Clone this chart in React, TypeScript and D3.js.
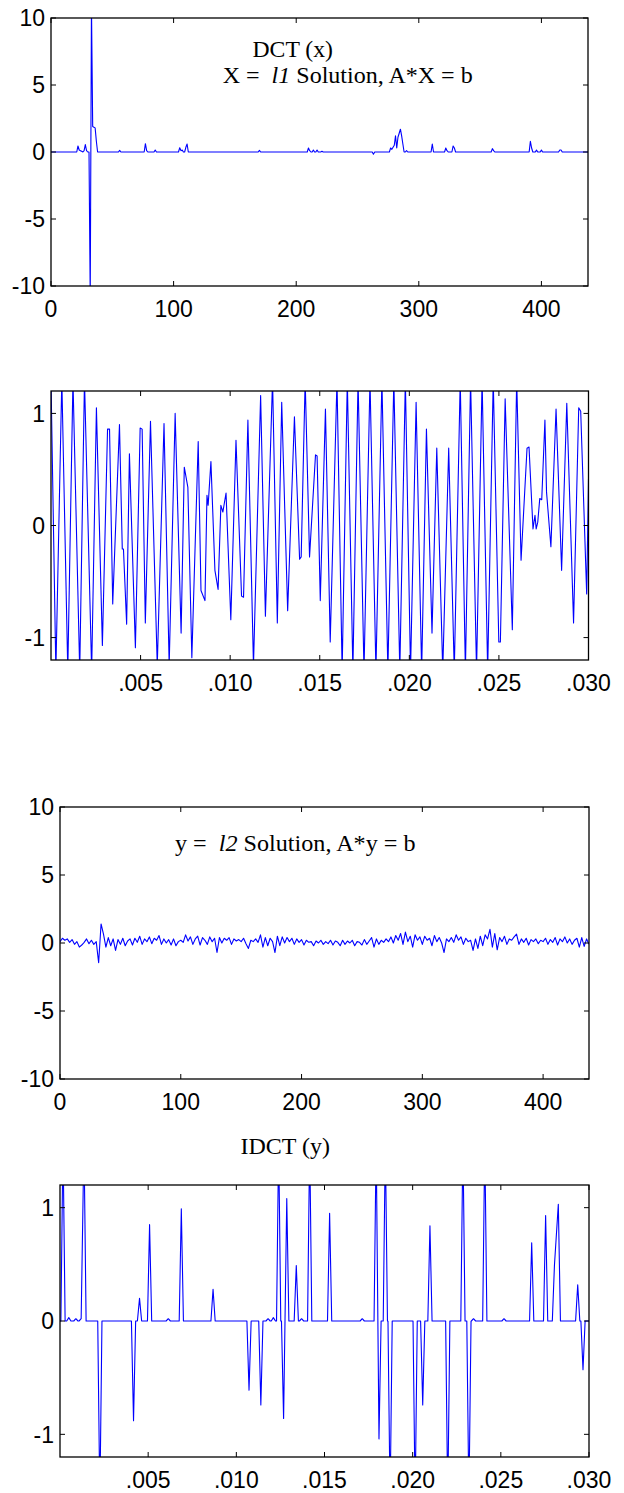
import React from 'react';
import * as d3 from 'd3';

const W = 624;
const H = 1493;

// ---------- Panel 1: DCT(x), X = l1 solution (sparse coefficients, zero elsewhere)
const dctLength = 438;
const dctIndex = [22, 23, 24, 25, 27, 28, 29, 32, 33, 34, 35, 36, 37, 56, 77, 78, 85, 105, 106, 107, 110, 111, 170, 210, 211, 214, 217, 221, 263, 277, 278, 279, 280, 281, 282, 283, 284, 285, 286, 287, 290, 311, 322, 323, 328, 329, 360, 361, 391, 392, 396, 400, 415, 416];
const dctValue = [0.45, 0.15, 0.1, 0.05, 0.1, 0.55, 0.1, -11, 11, 1.9, 1.85, 1.8, 0.8, 0.12, 0.62, 0.1, 0.15, 0.32, 0.1, 0.15, 0.35, 0.6, 0.12, 0.3, 0.1, 0.15, 0.15, 0.05, -0.17, 0.3, 0.2, 0.35, 0.5, 1.2, 0.3, 1.1, 1.4, 1.7, 1.2, 0.6, 0.1, 0.6, 0.3, 0.1, 0.45, 0.3, 0.25, 0.1, 0.8, 0.3, 0.15, 0.15, 0.15, 0.15];

// ---------- Panel 2: time signal (turning points)
const sigTime = [0, 0.000272, 0.000604, 0.000937, 0.001226, 0.001603, 0.001869, 0.002269, 0.002535, 0.002868, 0.003156, 0.003267, 0.003445, 0.003822, 0.003978, 0.004044, 0.004222, 0.004377, 0.00471, 0.004976, 0.005087, 0.005265, 0.005553, 0.005931, 0.006308, 0.006596, 0.006929, 0.007262, 0.007439, 0.007639, 0.007861, 0.008216, 0.008371, 0.008594, 0.008705, 0.008771, 0.008926, 0.009149, 0.009326, 0.009481, 0.009592, 0.00977, 0.010036, 0.010325, 0.010635, 0.010746, 0.01099, 0.011301, 0.0117, 0.011967, 0.012366, 0.012632, 0.012877, 0.013209, 0.013587, 0.013875, 0.013964, 0.014186, 0.01443, 0.014763, 0.014852, 0.015029, 0.015318, 0.015584, 0.015962, 0.01625, 0.016538, 0.016849, 0.017138, 0.01747, 0.017804, 0.018136, 0.018469, 0.018802, 0.019135, 0.019468, 0.019778, 0.020067, 0.020378, 0.020688, 0.020955, 0.021265, 0.021532, 0.021865, 0.022197, 0.022508, 0.022841, 0.023129, 0.023418, 0.023751, 0.024061, 0.024372, 0.024683, 0.024994, 0.025082, 0.025348, 0.025748, 0.025992, 0.026236, 0.026569, 0.02668, 0.026902, 0.027013, 0.02708, 0.027168, 0.027279, 0.02739, 0.027568, 0.027657, 0.027901, 0.028189, 0.0285, 0.028788, 0.029166, 0.029454, 0.029565, 0.029898, 0.03];
const sigValue = [1.3, -1.3, 1.3, -1.3, 1.3, -1.3, 1.3, -1.3, 1.05, -1.07, 0.86, 0.86, -0.7, 0.9, -0.21, -0.21, -0.88, 0.64, -1.09, 0.87, 0.86, -0.87, 0.93, -1.25, 0.91, -1.25, 1.0, -0.96, 0.52, 0.34, -1.18, 0.75, -0.58, -0.67, 0.27, 0.18, 0.57, -0.4, -0.57, 0.18, 0.12, 0.29, -0.84, 0.76, -0.63, -0.64, 0.94, -1.25, 1.16, -0.81, 1.3, -0.87, 1.1, -0.76, 0.97, -0.3, -0.28, 1.3, -0.28, 0.63, 0.62, -0.67, 1.04, -1.04, 1.3, -1.3, 1.3, -1.3, 1.3, -1.3, 1.3, -1.3, 1.3, -1.3, 1.3, -1.3, 1.3, -1.3, 1.1, -1.3, 0.86, -0.96, 0.69, -1.3, 0.69, -1.3, 1.3, -1.3, 1.3, -1.3, 1.3, -1.3, 1.3, -1.04, -1.04, 1.13, -0.93, 1.3, -0.31, 0.69, 0.7, -0.03, 0.09, -0.03, 0.03, 0.24, 0.23, 0.94, 0.3, -0.19, 1.04, -0.4, 1.09, -0.87, 1.05, 1.02, -0.61, 0.42];

// ---------- Panel 3: y = l2 solution (every second coefficient, index 0..438)
const l2Step = 2;
const l2Value = [
  0.1, 0.35, 0.2, 0.3, 0.05, 0.25, -0.1, 0.1, -0.3, -0.15,
  0.05, 0.3, -0.05, 0.2, -0.1, 0.1, -1.45, 1.4, 0.65, -0.3,
  0.4, -0.2, 0.3, -0.55, 0.25, -0.1, 0.35, -0.2, 0.15, 0.3,
  -0.15, 0.35, 0.05, 0.5, -0.1, 0.3, 0.1, 0.45, -0.05, 0.35,
  0.2, 0.55, -0.1, 0.3, 0.0, 0.25, -0.15, 0.3, -0.2, 0.1,
  0.2, 0.05, 0.6, 0.15, 0.45, -0.1, 0.3, 0.5, -0.15, 0.4,
  0.2, -0.1, 0.45, 0.1, 0.35, -0.7, 0.4, 0.0, 0.35, 0.2,
  0.4, -0.1, 0.3, 0.15, 0.25, 0.1, 0.35, -0.05, -0.4, 0.2,
  0.1, 0.3, 0.05, 0.6, -0.3, 0.4, -0.2, 0.35, 0.1, -0.7,
  0.5, -0.2, 0.45, 0.0, 0.4, 0.1, 0.35, -0.1, 0.3, 0.05,
  0.25, -0.15, 0.2, 0.05, 0.1, -0.2, 0.15, 0.0, 0.2, -0.1,
  0.1, -0.05, 0.2, -0.15, 0.15, 0.05, -0.2, 0.2, -0.1, 0.15,
  0.0, 0.2, -0.2, 0.1, 0.05, -0.15, 0.25, -0.1, 0.15, 0.4,
  -0.3, 0.3, -0.1, 0.2, 0.05, 0.3, 0.1, 0.45, 0.0, 0.55,
  0.2, 0.7, -0.1, 0.8, 0.1, 0.5, -0.3, 0.6, 0.2, 0.45,
  -0.1, 0.5, 0.2, 0.35, -0.2, 0.55, 0.1, 0.4, 0.0, -0.7,
  0.3, 0.1, 0.4, 0.05, 0.6, 0.2, 0.45, -0.1, 0.35, 0.1,
  0.2, -0.55, 0.3, -0.4, 0.5, -0.2, 0.6, 0.3, 1.0, -0.3,
  0.7, -0.5, 0.4, 0.1, 0.5, -0.1, 0.3, 0.2, 0.45, 0.65,
  -0.1, 0.3, 0.05, 0.35, -0.15, 0.25, 0.1, 0.3, -0.05, 0.2,
  0.1, 0.35, -0.1, 0.25, 0.05, 0.4, -0.15, 0.3, 0.1, 0.45,
  0.0, 0.3, -0.1, 0.2, 0.35, -0.3, 0.4, -0.25, 0.3, -0.1,
];

// ---------- Panel 4: IDCT(y) (isolated samples, zero elsewhere)
const spikeTime = [0.00017, 0.0005, 0.0009, 0.0012, 0.00136, 0.00226, 0.00417, 0.00451, 0.00508, 0.00614, 0.00688, 0.00868, 0.01072, 0.01139, 0.0118, 0.0121, 0.0124, 0.01268, 0.01286, 0.0134, 0.0137, 0.01416, 0.01529, 0.01714, 0.01793, 0.01809, 0.01845, 0.01872, 0.02014, 0.02057, 0.02098, 0.02199, 0.02285, 0.02319, 0.02345, 0.02409, 0.02518, 0.02675, 0.02754, 0.02804, 0.02826, 0.02936, 0.02966];
const spikeValue = [1.6, 0.03, 0.02, 0.02, 1.6, -1.6, -0.88, 0.2, 0.85, 0.02, 0.99, 0.28, -0.61, -0.74, 0.02, 0.03, 1.6, -0.86, 1.08, 0.49, 0.02, 1.6, 0.95, 0.02, 1.6, -1.04, 1.6, -1.6, -1.6, -0.74, 0.84, -1.6, 1.6, -1.6, 0.02, 1.6, 0.02, 0.69, 0.93, 0.49, 1.03, 0.32, -0.43];
const spikeHalfWidth = 0.00012;

// ---------- axes
const coefTicks = [0, 100, 200, 300, 400];
const coefYTicks = [-10, -5, 0, 5, 10];
const timeTicks = [0.005, 0.01, 0.015, 0.02, 0.025, 0.03];
const timeYTicks = [-1, 0, 1];

type Pt = [number, number];
type Box = { l: number; r: number; t: number; b: number };

const fmtTime = (d: number) => d3.format('.3f')(d).replace(/^0/, '');
const fmtInt = (d: number) => String(d);

const SANS = "'Liberation Sans', Arial, Helvetica, sans-serif";
const SERIF = "'Liberation Serif', 'Times New Roman', Times, serif";

function Panel(props: {
  id: string;
  box: Box;
  xDomain: [number, number];
  yDomain: [number, number];
  xTicks: number[];
  yTicks: number[];
  xFmt: (d: number) => string;
  data: Pt[];
}) {
  const { id, box, xDomain, yDomain, xTicks, yTicks, xFmt, data } = props;
  const x = d3.scaleLinear().domain(xDomain).range([box.l, box.r]);
  const y = d3.scaleLinear().domain(yDomain).range([box.b, box.t]);
  const line = d3
    .line<Pt>()
    .x((d) => x(d[0]))
    .y((d) => y(d[1]));
  const tl = 5;
  const fs = 23;
  return (
    <g>
      <defs>
        <clipPath id={id}>
          <rect x={box.l} y={box.t} width={box.r - box.l} height={box.b - box.t} />
        </clipPath>
      </defs>
      <path
        d={line(data) || ''}
        fill="none"
        stroke="#0000ff"
        strokeWidth={1.1}
        strokeLinejoin="round"
        clipPath={`url(#${id})`}
      />
      <rect
        x={box.l}
        y={box.t}
        width={box.r - box.l}
        height={box.b - box.t}
        fill="none"
        stroke="#000"
        strokeWidth={1.3}
      />
      {xTicks.map((t) => (
        <g key={'xt' + t}>
          <line x1={x(t)} x2={x(t)} y1={box.b} y2={box.b - tl} stroke="#000" strokeWidth={1} />
          <line x1={x(t)} x2={x(t)} y1={box.t} y2={box.t + tl} stroke="#000" strokeWidth={1} />
          <text
            x={x(t)}
            y={box.b + 30.5}
            textAnchor="middle"
            fontFamily={SANS}
            fontSize={fs}
            fill="#000"
          >
            {xFmt(t)}
          </text>
        </g>
      ))}
      {yTicks.map((t) => (
        <g key={'yt' + t}>
          <line x1={box.l} x2={box.l + tl} y1={y(t)} y2={y(t)} stroke="#000" strokeWidth={1} />
          <line x1={box.r} x2={box.r - tl} y1={y(t)} y2={y(t)} stroke="#000" strokeWidth={1} />
          <text
            x={box.l - 6}
            y={y(t) + 8.2}
            textAnchor="end"
            fontFamily={SANS}
            fontSize={fs}
            fill="#000"
          >
            {String(t)}
          </text>
        </g>
      ))}
    </g>
  );
}

function dctSeries(): Pt[] {
  const vals = new Array(dctLength + 1).fill(0);
  dctIndex.forEach((k, i) => {
    vals[k] = dctValue[i];
  });
  return vals.map((v, i) => [i, v] as Pt);
}

function signalSeries(): Pt[] {
  return sigTime.map((t, i) => [t, sigValue[i]] as Pt);
}

function l2Series(): Pt[] {
  return l2Value.map((v, i) => [i * l2Step, v] as Pt);
}

function spikeSeries(): Pt[] {
  const pts: Pt[] = [[0, 0]];
  const w = spikeHalfWidth;
  spikeTime.forEach((t, i) => {
    const prev = i > 0 ? spikeTime[i - 1] : -1;
    const next = i < spikeTime.length - 1 ? spikeTime[i + 1] : 1;
    if (t - w > prev + w) pts.push([t - w, 0]);
    pts.push([t, spikeValue[i]]);
    if (t + w < next - w) pts.push([t + w, 0]);
  });
  pts.push([0.03, 0]);
  return pts;
}

export default function App() {
  const titleStyle: React.CSSProperties = { whiteSpace: 'pre' };
  return (
    <svg
      width={W}
      height={H}
      viewBox={`0 0 ${W} ${H}`}
      style={{ position: 'absolute', left: 0, top: 0, background: '#fff' }}
    >
      <rect x={0} y={0} width={W} height={H} fill="#fff" />

      <Panel
        id="c1"
        box={{ l: 51, r: 588, t: 18, b: 286 }}
        xDomain={[0, dctLength]}
        yDomain={[-10, 10]}
        xTicks={coefTicks}
        yTicks={coefYTicks}
        xFmt={fmtInt}
        data={dctSeries()}
      />
      <text x={252.5} y={57.3} fontFamily={SERIF} fontSize={23.5} fill="#000" textLength={80.5} lengthAdjust="spacingAndGlyphs">
        DCT (x)
      </text>
      <text x={222.7} y={82.7} fontFamily={SERIF} fontSize={23.5} fill="#000" style={titleStyle} textLength={250} lengthAdjust="spacingAndGlyphs">
        {'X =  '}
        <tspan fontStyle="italic">l1</tspan>
        {' Solution, A*X = b'}
      </text>

      <Panel
        id="c2"
        box={{ l: 51, r: 588.5, t: 391, b: 660 }}
        xDomain={[0, 0.03]}
        yDomain={[-1.2, 1.2]}
        xTicks={timeTicks}
        yTicks={timeYTicks}
        xFmt={fmtTime}
        data={signalSeries()}
      />

      <Panel
        id="c3"
        box={{ l: 60, r: 589, t: 807, b: 1079 }}
        xDomain={[0, dctLength]}
        yDomain={[-10, 10]}
        xTicks={coefTicks}
        yTicks={coefYTicks}
        xFmt={fmtInt}
        data={l2Series()}
      />
      <text x={175} y={851} fontFamily={SERIF} fontSize={23.5} fill="#000" style={titleStyle} textLength={240.5} lengthAdjust="spacingAndGlyphs">
        {'y =  '}
        <tspan fontStyle="italic">l2</tspan>
        {' Solution, A*y = b'}
      </text>

      <text x={240.5} y={1154} fontFamily={SERIF} fontSize={23.5} fill="#000" textLength={89.5} lengthAdjust="spacingAndGlyphs">
        IDCT (y)
      </text>
      <Panel
        id="c4"
        box={{ l: 60, r: 589, t: 1185, b: 1457 }}
        xDomain={[0, 0.03]}
        yDomain={[-1.2, 1.2]}
        xTicks={timeTicks}
        yTicks={timeYTicks}
        xFmt={fmtTime}
        data={spikeSeries()}
      />
    </svg>
  );
}
